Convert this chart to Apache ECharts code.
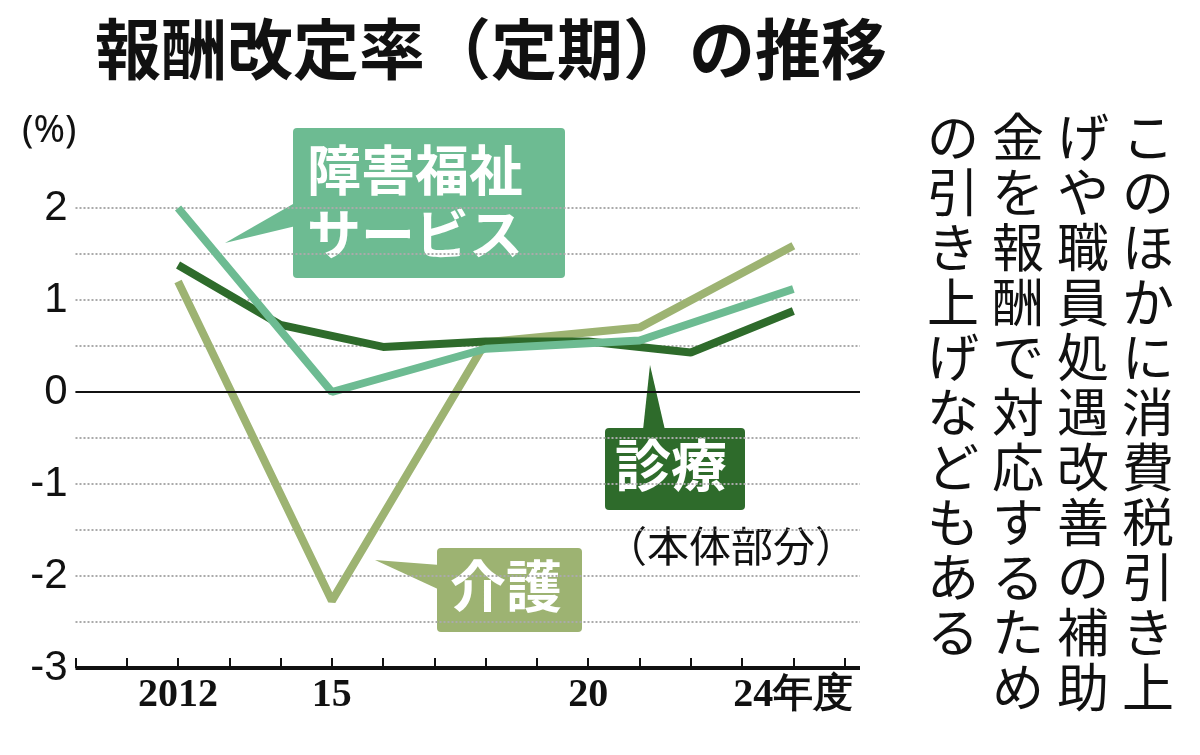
<!DOCTYPE html>
<html><head><meta charset="utf-8">
<script src="https://cdn.jsdelivr.net/npm/echarts@6/dist/echarts.min.js"></script>
<style>body{margin:0;background:#fff}#c{width:1200px;height:755px}</style>
</head><body><div id="c"></div>
<script>
var shinryoYears = [2012, 2014, 2016, 2018, 2020, 2022, 2024];
var shinryo = [1.38, 0.73, 0.49, 0.55, 0.55, 0.43, 0.88];
var kaigoYears = [2012, 2015, 2018, 2021, 2024];
var kaigo = [1.2, -2.27, 0.54, 0.7, 1.59];
var shogaiYears = [2012, 2015, 2018, 2021, 2024];
var shogai = [2.0, 0.0, 0.47, 0.56, 1.12];
var xLabels = {2012: '2012', 2015: '15', 2020: '20', 2024: '24年度'};
var note = ['このほかに消費税引き上', 'げや職員処遇改善の補助', '金を報酬で対応するため', 'の引き上げなどもある'];

var cDark = '#2e6b2b', cTeal = '#6dbb92', cOlive = '#9db372';
function pairs(xs, ys) { return xs.map(function (x, i) { return [x, ys[i]]; }); }

var chart = echarts.init(document.getElementById('c'));
var graphics = [
  {type: 'text', left: 95, top: 16, style: {text: '報酬改定率（定期）の推移', font: 'bold 66px "Noto Sans CJK JP"', fill: '#111'}},
  {type: 'text', left: 22, top: 112, style: {text: '(%)', font: '38px "Noto Sans"', fill: '#111'}},
  // 障害福祉 label
  {type: 'polygon', shape: {points: [[300, 200], [225, 243], [300, 225]]}, style: {fill: cTeal}},
  {type: 'rect', shape: {x: 293, y: 128, width: 272, height: 150, r: 4}, style: {fill: cTeal}},
  {type: 'text', left: 307, top: 138, style: {text: '障害福祉\nサービス', font: 'bold 54px "Noto Sans CJK JP"', fill: '#fff', lineHeight: 64}},
  // 診療 label
  {type: 'polygon', shape: {points: [[643, 430], [650, 365], [665, 430]]}, style: {fill: cDark}},
  {type: 'rect', shape: {x: 605, y: 428, width: 140, height: 82, r: 4}, style: {fill: cDark}},
  {type: 'text', left: 615, top: 437, style: {text: '診療', font: 'bold 56px "Noto Sans CJK JP"', fill: '#fff'}},
  {type: 'text', left: 605, top: 525, style: {text: '（本体部分）', font: '42px "Noto Sans CJK JP"', fill: '#111'}},
  // 介護 label
  {type: 'polygon', shape: {points: [[440, 565], [375, 560], [440, 590]]}, style: {fill: cOlive}},
  {type: 'rect', shape: {x: 437, y: 548, width: 145, height: 84, r: 4}, style: {fill: cOlive}},
  {type: 'text', left: 450, top: 558, style: {text: '介護', font: 'bold 56px "Noto Sans CJK JP"', fill: '#fff'}}
];
note.forEach(function (line, i) {
  graphics.push({type: 'text', left: 1122 - i * 65, top: 110,
    style: {text: line.split('').join('\n'), font: '52px "Noto Sans CJK JP"', lineHeight: 55, fill: '#111'}});
});

chart.setOption({
  animation: false,
  grid: {left: 75.5, right: 340, top: 208, bottom: 87, containLabel: false},
  xAxis: {
    type: 'value', min: 2010, max: 2025.3, interval: 1,
    axisLine: {show: false, onZero: false},
    axisTick: {show: true, length: 10, inside: true, lineStyle: {color: '#111', width: 2}},
    splitLine: {show: false},
    axisLabel: {margin: 8, showMaxLabel: false, formatter: function (v) { return xLabels[v] || ''; },
      fontFamily: 'Liberation Serif', fontWeight: 'bold', fontSize: 40, color: '#111'}
  },
  yAxis: {
    type: 'value', min: -3, max: 2, interval: 0.5,
    axisLine: {show: false}, axisTick: {show: false},
    axisLabel: {fontSize: 42, color: '#111', margin: 8,
      formatter: function (v) { return v % 1 === 0 ? String(v) : ''; }},
    splitLine: {lineStyle: {type: 'dotted', color: '#aaa', width: 2}}
  },
  series: [
    {type: 'line', data: pairs(shinryoYears, shinryo), symbol: 'none', lineStyle: {color: cDark, width: 8}, z: 3,
      markLine: {symbol: 'none', silent: true, label: {show: false},
        lineStyle: {color: '#111', type: 'solid', width: 2},
        data: [{yAxis: 0}, {yAxis: -3, lineStyle: {width: 4}}]}},
    {type: 'line', data: pairs(kaigoYears, kaigo), symbol: 'none', lineStyle: {color: cOlive, width: 8}, z: 2},
    {type: 'line', data: pairs(shogaiYears, shogai), symbol: 'none', lineStyle: {color: cTeal, width: 8}, z: 4}
  ],
  graphic: graphics
});
</script></body></html>
